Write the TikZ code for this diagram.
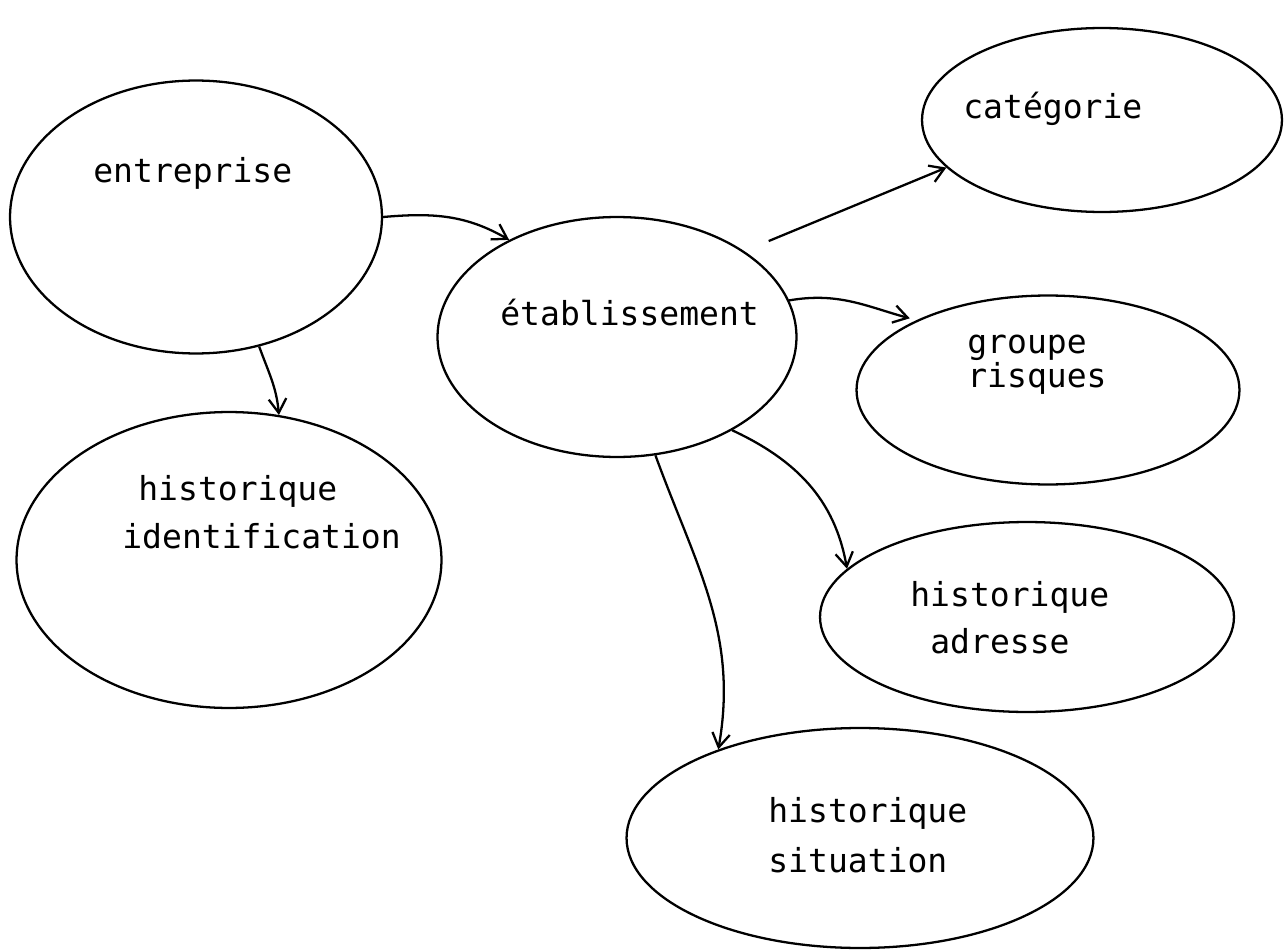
\documentclass[tikz,border=0pt]{standalone}
\usepackage{fontspec}
\setmonofont{DejaVu Sans Mono}
\usepackage{tikz}
\usetikzlibrary{shapes.geometric, arrows.meta}
\tikzstyle{entity} = [ellipse, draw=black, line width=1.3pt, inner sep=0pt]
\tikzstyle{txt} = [anchor=base west, inner sep=0pt, font=\ttfamily\fontsize{18.8}{22}\selectfont]
\tikzstyle{arrow} = [line width=1.3pt, -{Straight Barb[length=8pt, width=10pt]}]

\begin{document}
\begin{tikzpicture}[x=0.02cm, y=0.02cm]
\useasboundingbox (0,0) rectangle (1286,-950);

% Entities
\node (entreprise) [entity, minimum width=7.44cm, minimum height=5.46cm] at (196,-217) {};
\node (ident) [entity, minimum width=8.5cm, minimum height=5.92cm] at (229,-560) {};
\node (etab) [entity, minimum width=7.18cm, minimum height=4.8cm] at (617,-337) {};
\node (categorie) [entity, minimum width=7.2cm, minimum height=3.68cm] at (1102,-120) {};
\node (groupe) [entity, minimum width=7.66cm, minimum height=3.78cm] at (1048,-390) {};
\node (adresse) [entity, minimum width=8.28cm, minimum height=3.8cm] at (1027,-617) {};
\node (situation) [entity, minimum width=9.34cm, minimum height=4.4cm] at (860,-838) {};

% Texts
\node (t-entreprise) [txt] at (93,-182) {entreprise};
\node (t-ident1) [txt] at (138,-500) {historique};
\node (t-ident2) [txt] at (122,-548) {identification};
\node (t-etab) [txt] at (500,-325) {établissement};
\node (t-categorie) [txt] at (963,-118) {catégorie};
\node (t-groupe1) [txt] at (967,-353) {groupe};
\node (t-groupe2) [txt] at (967,-387) {risques};
\node (t-adresse1) [txt] at (910,-606) {historique};
\node (t-adresse2) [txt] at (930,-653) {adresse};
\node (t-situation1) [txt] at (768,-822) {historique};
\node (t-situation2) [txt] at (768,-872) {situation};

% Arrows
\draw [arrow] (entreprise.east) to[out=5, in=150] (etab.138);
\draw [arrow] (entreprise.-64) to[out=-70, in=95] (ident.71);
\draw [arrow, shorten <=15pt] (etab.34) -- (categorie.197);
\draw [arrow, shorten >=4pt] (etab.12) to[out=10, in=165] (groupe.152);
\draw [arrow] (etab.-39) to[out=-25, in=100] (adresse.165);
\draw [arrow] (etab.-72) to[out=-70, in=80] (situation.148);

\end{tikzpicture}
\end{document}
